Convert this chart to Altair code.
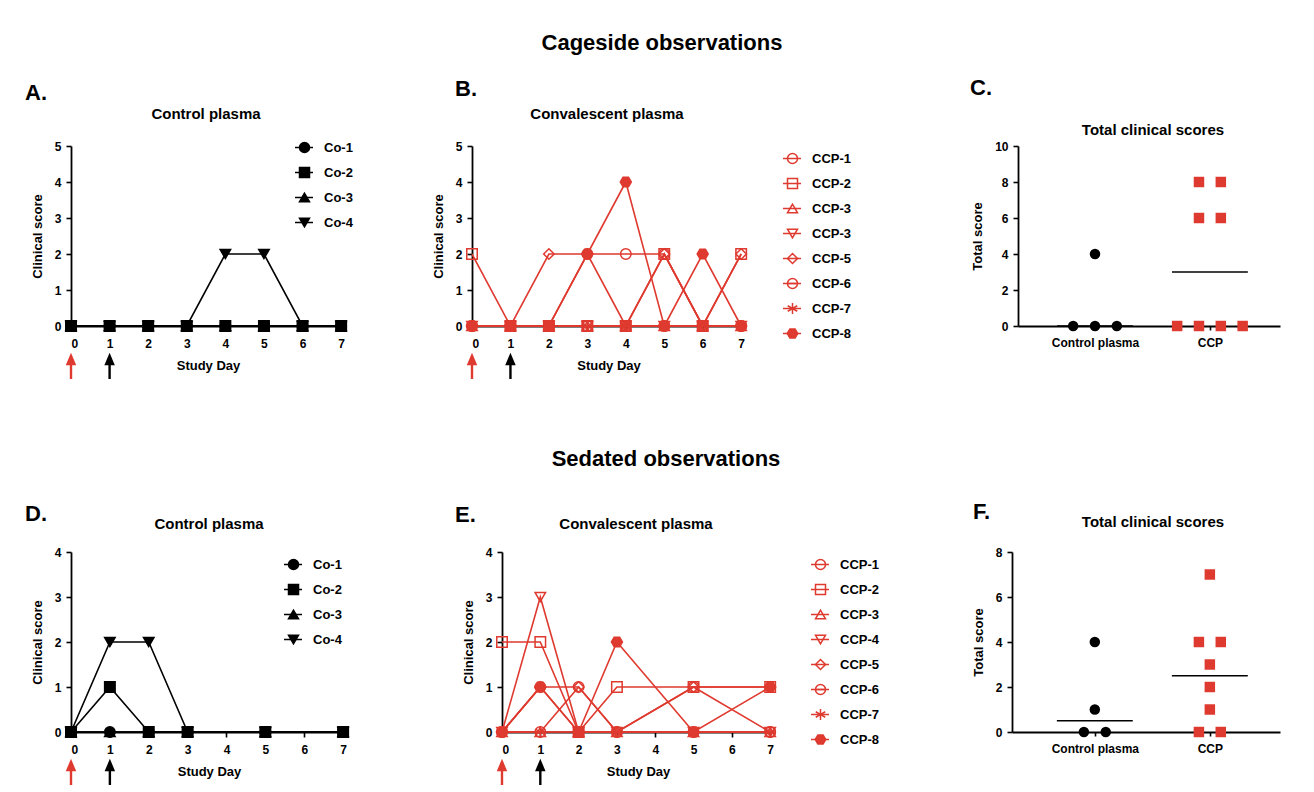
import altair as alt
import pandas as pd
import numpy as np

FONT = "Liberation Sans"
RED = "#df3a2f"
BLACK = "#000000"

# ---------------- data ----------------
days_cage = [0, 1, 2, 3, 4, 5, 6, 7]
days_sed = [0, 1, 2, 3, 5, 7]
day_ticks = [0, 1, 2, 3, 4, 5, 6, 7]

co_names = ["Co-1", "Co-2", "Co-3", "Co-4"]
ccp_names = ["CCP-1", "CCP-2", "CCP-3", "CCP-4", "CCP-5", "CCP-6", "CCP-7", "CCP-8"]
ccp_labels_cage = ["CCP-1", "CCP-2", "CCP-3", "CCP-3", "CCP-5", "CCP-6", "CCP-7", "CCP-8"]
ccp_labels_sed = ["CCP-1", "CCP-2", "CCP-3", "CCP-4", "CCP-5", "CCP-6", "CCP-7", "CCP-8"]

# A. cageside, control plasma
cage_co1 = [0, 0, 0, 0, 0, 0, 0, 0]
cage_co2 = [0, 0, 0, 0, 0, 0, 0, 0]
cage_co3 = [0, 0, 0, 0, 0, 0, 0, 0]
cage_co4 = [0, 0, 0, 0, 2, 2, 0, 0]

# B. cageside, convalescent plasma
cage_ccp1 = [0, 0, 0, 2, 2, 2, 0, 0]
cage_ccp2 = [2, 0, 0, 0, 0, 2, 0, 2]
cage_ccp3 = [0, 0, 0, 0, 0, 0, 0, 0]
cage_ccp4 = [0, 0, 0, 0, 0, 0, 0, 0]
cage_ccp5 = [0, 0, 2, 2, 0, 2, 0, 2]
cage_ccp6 = [0, 0, 0, 0, 0, 0, 0, 0]
cage_ccp7 = [0, 0, 0, 0, 0, 0, 0, 0]
cage_ccp8 = [0, 0, 0, 2, 4, 0, 2, 0]

# D. sedated, control plasma
sed_co1 = [0, 0, 0, 0, 0, 0]
sed_co2 = [0, 1, 0, 0, 0, 0]
sed_co3 = [0, 0, 0, 0, 0, 0]
sed_co4 = [0, 2, 2, 0, 0, 0]

# E. sedated, convalescent plasma
sed_ccp1 = [0, 0, 1, 0, 0, 0]
sed_ccp2 = [2, 2, 0, 1, 1, 1]
sed_ccp3 = [0, 0, 0, 0, 0, 0]
sed_ccp4 = [0, 3, 0, 0, 0, 0]
sed_ccp5 = [0, 1, 1, 0, 1, 1]
sed_ccp6 = [0, 1, 0, 0, 1, 0]
sed_ccp7 = [0, 0, 0, 0, 0, 0]
sed_ccp8 = [0, 1, 0, 2, 0, 1]

groups = ["Control plasma", "CCP"]
arrow_days = [0, 1]
arrow_colors = [RED, BLACK]

# ---------------- styles ----------------
H = 180
CIRCLE_BAR = "M-1,0A1,1 0 1,1 1,0A1,1 0 1,1 -1,0ZM-1,0L1,0"
ASTERISK = "M0,-1.1L0,1.1M-0.95,-0.55L0.95,0.55M-0.95,0.55L0.95,-0.55"
HEXAGON = "M-1.05,0L-0.52,-0.9L0.52,-0.9L1.05,0L0.52,0.9L-0.52,0.9Z"
ARROW_HEAD = "M-1,1.2L0,-1.2L1,1.2Z"
co_shapes = ["circle", "square", "triangle-up", "triangle-down"]
co_fills = [BLACK, BLACK, BLACK, BLACK]
ccp_shapes = ["circle", "square", "triangle-up", "triangle-down", "diamond", CIRCLE_BAR, ASTERISK, HEXAGON]
ccp_fills = ["transparent"] * 7 + [RED]


def text_layer(txt, x, y, size, align="left"):
    return alt.Chart(pd.DataFrame({"t": [txt]})).mark_text(
        align=align, baseline="middle", font=FONT, fontSize=size, fontWeight="bold", color="black"
    ).encode(x=alt.value(x), y=alt.value(y), text="t:N")


def time_panel(days, names, labels, series, width, ymax, col, shapes, fills,
               leg_x, leg_y, title, txy, letter, lxy, heading=None):
    rows = []
    for nm, vals in zip(names, series):
        for d, v in zip(days, vals):
            rows.append({"day": d, "score": v, "series": nm, "series_line": nm})
    df = pd.DataFrame(rows)
    xs = alt.Scale(domain=[0, 7.1], nice=False, zero=False)
    ys = alt.Scale(domain=[0, ymax], nice=False)
    xenc = alt.X("day:Q", scale=xs, axis=alt.Axis(values=day_ticks, title="Study Day", format="d",
                                                  labelPadding=7, titlePadding=10))
    yenc = alt.Y("score:Q", scale=ys, axis=alt.Axis(values=list(range(ymax + 1)), title="Clinical score",
                                                    format="d", labelPadding=5, titlePadding=10))
    expr = "datum.label"
    for nm, lb in zip(names, labels):
        if nm != lb:
            expr = f"datum.label == '{nm}' ? '{lb}' : ({expr})"
    base = dict(orient="none", legendY=leg_y, title=None, clipHeight=13, rowPadding=11,
                labelFontSize=13, labelFont=FONT, labelFontWeight="bold", labelColor="black",
                padding=0, symbolStrokeWidth=1.5)
    shape_leg = dict(legendX=leg_x, symbolSize=100, labelOffset=13, labelExpr=expr, **base)
    line_leg = dict(legendX=leg_x - 4, symbolSize=324, symbolType="stroke", labelExpr="''", **base)
    lines = alt.Chart(df).mark_line(strokeWidth=1.6).encode(
        x=xenc, y=yenc,
        color=alt.Color("series_line:N", scale=alt.Scale(range=[col] * len(names)),
                        legend=alt.Legend(**line_leg)),
        order="day:Q",
    )
    pts = alt.Chart(df).mark_point(size=110, strokeWidth=1.5, opacity=1).encode(
        x=xenc, y=yenc,
        shape=alt.Shape("series:N", scale=alt.Scale(domain=names, range=shapes),
                        legend=alt.Legend(**shape_leg)),
        fill=alt.Fill("series:N", scale=alt.Scale(domain=names, range=fills),
                      legend=alt.Legend(**shape_leg)),
        stroke=alt.Stroke("series:N", scale=alt.Scale(domain=names, range=[col] * len(names)),
                          legend=alt.Legend(**shape_leg)),
    )
    layers = [lines, pts]
    for d, c in zip(arrow_days, arrow_colors):
        adf = pd.DataFrame({"day": [d]})
        layers.append(alt.Chart(adf).mark_rule(color=c, strokeWidth=2.4).encode(
            x=xenc, y=alt.value(H + 37), y2=alt.value(H + 53)))
        layers.append(alt.Chart(adf).mark_point(shape=ARROW_HEAD, filled=True, size=110, opacity=1,
                                                color=c).encode(x=xenc, y=alt.value(H + 33)))
    layers.append(text_layer(letter, lxy[0], lxy[1], 22))
    layers.append(text_layer(title, txy[0], txy[1], 15, align="center"))
    if heading is not None:
        layers.append(text_layer(heading[0], heading[1], heading[2], 22, align="center"))
    return alt.layer(*layers).properties(width=width, height=H)


def strip_panel(ctrl, ccp, width, ymax, ystep, xdom, title, txy, letter, lxy):
    JIT = 0.19
    HALF = 0.33
    rows = []
    for gi, (g, vals) in enumerate(zip(groups, [ctrl, ccp])):
        counts = {}
        for v in vals:
            counts[v] = counts.get(v, 0) + 1
        seen = {}
        for v in sorted(vals):
            k = seen.get(v, 0)
            seen[v] = k + 1
            off = k - (counts[v] - 1) / 2
            rows.append({"grp": g, "total": v, "xpos": gi + off * JIT})
    df = pd.DataFrame(rows)
    med = pd.DataFrame({
        "grp": groups,
        "med": [float(np.median(ctrl)), float(np.median(ccp))],
        "x1": [i - HALF for i in range(len(groups))],
        "x2": [i + HALF for i in range(len(groups))],
    })
    lab_expr = " : ".join([f"datum.value == {i} ? '{g}'" for i, g in enumerate(groups[:-1])]) + f" : '{groups[-1]}'"
    xaxis = alt.Axis(values=list(range(len(groups))), title=None, labelExpr=lab_expr, tickSize=4,
                     labelPadding=7)
    xs = alt.Scale(domain=xdom, nice=False, zero=False)
    ys = alt.Scale(domain=[0, ymax], nice=False)
    yaxis = alt.Axis(values=list(range(0, ymax + 1, ystep)), title="Total score",
                     format="d", labelPadding=5, titlePadding=10)
    pts = alt.Chart(df).mark_point(filled=True, opacity=1, size=110).encode(
        x=alt.X("xpos:Q", scale=xs, axis=xaxis),
        y=alt.Y("total:Q", scale=ys, axis=yaxis),
        shape=alt.Shape("grp:N", scale=alt.Scale(domain=groups, range=["circle", "square"]), legend=None),
        color=alt.Color("grp:N", scale=alt.Scale(domain=groups, range=[BLACK, RED]), legend=None),
    )
    rule = alt.Chart(med).mark_rule(color=BLACK, strokeWidth=1.6).encode(
        x=alt.X("x1:Q", scale=xs, axis=xaxis), x2="x2:Q",
        y=alt.Y("med:Q", scale=ys, axis=yaxis),
    )
    return alt.layer(pts, rule, text_layer(letter, lxy[0], lxy[1], 22),
                     text_layer(title, txy[0], txy[1], 15, align="center")).properties(width=width, height=H)


def spacer(w):
    return alt.Chart(pd.DataFrame({"v": [0]})).mark_point(opacity=0).encode(
        x=alt.value(0), y=alt.value(0)).properties(width=w, height=H)


cage_co = [cage_co1, cage_co2, cage_co3, cage_co4]
cage_ccp = [cage_ccp1, cage_ccp2, cage_ccp3, cage_ccp4, cage_ccp5, cage_ccp6, cage_ccp7, cage_ccp8]
sed_co = [sed_co1, sed_co2, sed_co3, sed_co4]
sed_ccp = [sed_ccp1, sed_ccp2, sed_ccp3, sed_ccp4, sed_ccp5, sed_ccp6, sed_ccp7, sed_ccp8]

A = time_panel(days_cage, co_names, co_names, cage_co, 274, 5, BLACK, co_shapes, co_fills,
               227, -5, "Control plasma", (135, -32), "A.", (-46, -53))
B = time_panel(days_cage, ccp_names, ccp_labels_cage, cage_ccp, 273, 5, RED, ccp_shapes, ccp_fills,
               314, 6, "Convalescent plasma", (135, -32), "B.", (-17, -57),
               heading=("Cageside observations", 190, -103))
C = strip_panel([sum(s) for s in cage_co], [sum(s) for s in cage_ccp], 262, 10, 2, [-0.67, 1.61],
                "Total clinical scores", (135, -16), "C.", (-48, -58))
D = time_panel(days_sed, co_names, co_names, sed_co, 276, 4, BLACK, co_shapes, co_fills,
               216, 6, "Control plasma", (138, -28), "D.", (-46, -38))
E = time_panel(days_sed, ccp_names, ccp_labels_sed, sed_ccp, 272, 4, RED, ccp_shapes, ccp_fills,
               312, 6, "Convalescent plasma", (134, -28), "E.", (-47, -37),
               heading=("Sedated observations", 164, -93))
F = strip_panel([sum(s) for s in sed_co], [sum(s) for s in sed_ccp], 268, 8, 2, [-0.72, 1.61],
                "Total clinical scores", (141, -30), "F.", (-39, -40))

RES = dict(color="independent", shape="independent", fill="independent", stroke="independent")

row1 = alt.hconcat(A, spacer(127), B, spacer(273), C, spacing=0, bounds="flush") \
    .resolve_scale(**RES).resolve_legend(**RES)
row2 = alt.hconcat(D, spacer(155), E, spacer(238), F, spacing=0, bounds="flush") \
    .resolve_scale(**RES).resolve_legend(**RES)

chart = alt.vconcat(row1, row2, spacing=67).resolve_scale(**RES).resolve_legend(**RES).properties(
    padding={"left": 17, "top": 24, "right": 5, "bottom": 0}, background="white",
).configure_view(stroke=None).configure_axis(
    labelFont=FONT, labelFontSize=12, labelFontWeight="bold", labelColor="black",
    titleFont=FONT, titleFontSize=13, titleFontWeight="bold", titleColor="black",
    domainColor="black", domainWidth=1.8, tickColor="black", tickWidth=1.6, tickSize=5, grid=False,
).configure_title(font=FONT)

chart.save("out.html", embed_options={"renderer": "svg", "actions": False})
